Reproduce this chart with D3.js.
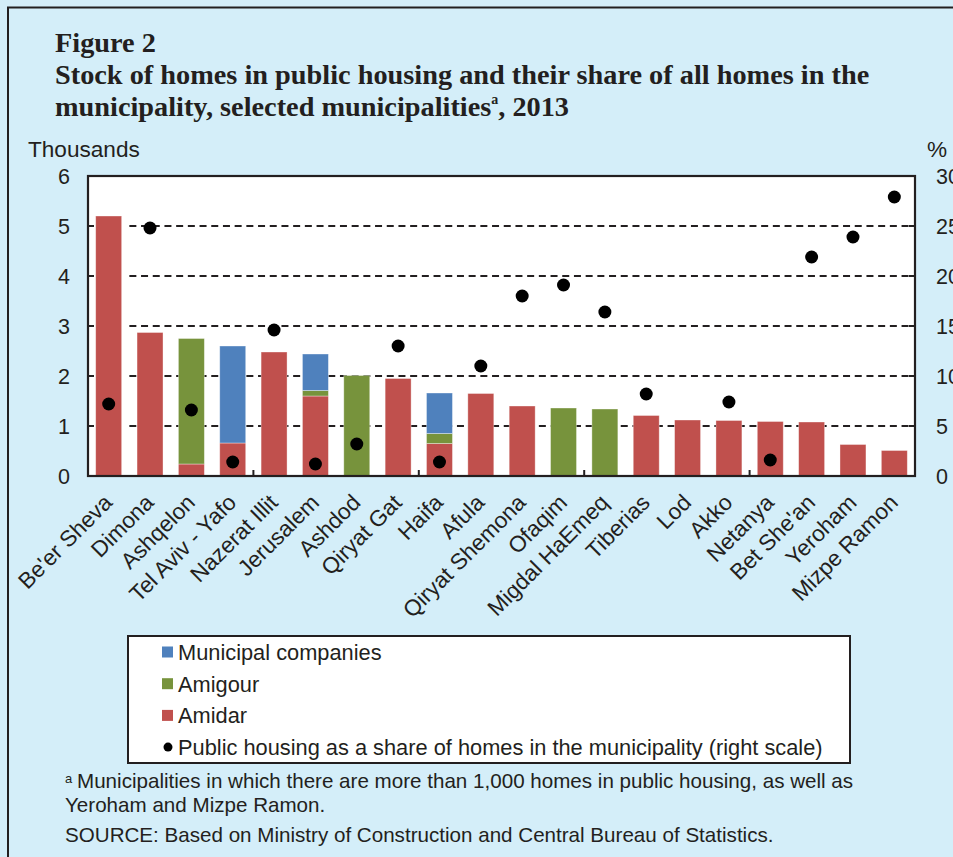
<!DOCTYPE html>
<html>
<head>
<meta charset="utf-8">
<script src="https://cdn.jsdelivr.net/npm/d3@7/dist/d3.min.js"></script>
<style>
  html, body { margin: 0; padding: 0; background: #d4eef9; }
  svg { display: block; }
</style>
</head>
<body>
<svg id="chart" width="953" height="857"></svg>
<script>
// Public housing stock by operator (thousands of homes), 2013
const categories = ["Be'er Sheva", "Dimona", "Ashqelon", "Tel Aviv - Yafo", "Nazerat Illit",
  "Jerusalem", "Ashdod", "Qiryat Gat", "Haifa", "Afula", "Qiryat Shemona", "Ofaqim",
  "Migdal HaEmeq", "Tiberias", "Lod", "Akko", "Netanya", "Bet She'an", "Yeroham", "Mizpe Ramon"];
const amidar    = [5.20, 2.87, 0.24, 0.66, 2.48, 1.60, 0.00, 1.95, 0.65, 1.65, 1.40, 0.00, 0.00, 1.21, 1.12, 1.11, 1.09, 1.08, 0.63, 0.51];
const amigour   = [0.00, 0.00, 2.51, 0.00, 0.00, 0.11, 2.01, 0.00, 0.20, 0.00, 0.00, 1.36, 1.34, 0.00, 0.00, 0.00, 0.00, 0.00, 0.00, 0.00];
const municipal = [0.00, 0.00, 0.00, 1.94, 0.00, 0.73, 0.00, 0.00, 0.81, 0.00, 0.00, 0.00, 0.00, 0.00, 0.00, 0.00, 0.00, 0.00, 0.00, 0.00];
// Public housing as a share of all homes in the municipality (%), right scale
const sharePct  = [7.2, 24.8, 6.6, 1.4, 14.6, 1.2, 3.2, 13.0, 1.4, 11.0, 18.0, 19.1, 16.4, 8.2, null, 7.4, 1.6, 21.9, 23.9, 27.9];

const leftTicks  = [0, 1, 2, 3, 4, 5, 6];
const rightTicks = [0, 5, 10, 15, 20, 25, 30];
const legendLabels = ["Municipal companies", "Amigour", "Amidar",
  "Public housing as a share of homes in the municipality (right scale)"];

const colors = { municipal: "#4f81bd", amigour: "#77933c", amidar: "#c0504d" };
const ink = "#231f20";
const sans = "'Liberation Sans', Arial, sans-serif";
const serif = "'Liberation Serif', 'Times New Roman', serif";

const svg = d3.select("#chart");
const W = 953, H = 857;

// background panel and its frame
svg.append("rect").attr("width", W).attr("height", H).attr("fill", "#d4eef9");
svg.append("path").attr("d", `M8,${H} V7.5 H${W}`)
  .attr("fill", "none").attr("stroke", ink).attr("stroke-width", 2);

// title
const title = svg.append("text").attr("font-family", serif).attr("font-weight", "bold")
  .attr("font-size", 28.3).attr("fill", ink);
title.append("tspan").attr("x", 55).attr("y", 52).text("Figure 2");
title.append("tspan").attr("x", 55).attr("y", 84)
  .text("Stock of homes in public housing and their share of all homes in the");
title.append("tspan").attr("x", 55).attr("y", 116).text("municipality, selected municipalities");
title.append("tspan").attr("font-size", 14).attr("dy", -12).text("a");
title.append("tspan").attr("dy", 12).text(", 2013");

// plot area
const plot = { left: 88, right: 915, top: 176, bottom: 476 };

const x = d3.scaleBand().domain(categories)
  .range([plot.left, plot.right]).paddingInner(0.372).paddingOuter(0.186);
const y = d3.scaleLinear().domain([0, 6]).range([plot.bottom, plot.top]);
const y2 = d3.scaleLinear().domain([0, 30]).range([plot.bottom, plot.top]);

svg.append("rect").attr("x", plot.left).attr("y", plot.top)
  .attr("width", plot.right - plot.left).attr("height", plot.bottom - plot.top)
  .attr("fill", "#fff");

// dashed gridlines, starting after the first category
svg.append("g").selectAll("line").data(leftTicks.filter(d => d > 0 && d < 6)).join("line")
  .attr("x1", plot.left + x.step()).attr("x2", plot.right - 2)
  .attr("y1", d => y(d)).attr("y2", d => y(d))
  .attr("stroke", ink).attr("stroke-width", 2).attr("stroke-dasharray", "7,4.7");

// stacked bars
const rows = categories.map((c, i) => ({ city: c, amidar: amidar[i], amigour: amigour[i], municipal: municipal[i] }));
const stack = d3.stack().keys(["amidar", "amigour", "municipal"])(rows);
svg.append("g").selectAll("g").data(stack).join("g")
  .attr("fill", s => colors[s.key])
  .selectAll("rect").data(s => s.filter(d => d[1] - d[0] > 0)).join("rect")
  .attr("x", d => x(d.data.city))
  .attr("width", x.bandwidth())
  .attr("y", d => y(d[1]))
  .attr("height", d => y(d[0]) - y(d[1]))
  .attr("stroke", "#ffffff").attr("stroke-opacity", 0.45).attr("stroke-width", 0.8);

// share dots on the right scale
svg.append("g").selectAll("circle")
  .data(categories.map((c, i) => ({ city: c, v: sharePct[i] })).filter(d => d.v != null))
  .join("circle")
  .attr("cx", d => x(d.city) + x.bandwidth() / 2)
  .attr("cy", d => y2(d.v))
  .attr("r", 6.5).attr("fill", "#000");

// frame
svg.append("rect").attr("x", plot.left).attr("y", plot.top)
  .attr("width", plot.right - plot.left).attr("height", plot.bottom - plot.top)
  .attr("fill", "none").attr("stroke", ink).attr("stroke-width", 2.2);

// inner tick marks on the category axis, every fourth category
svg.append("g").selectAll("line").data(d3.range(4, categories.length, 4)).join("line")
  .attr("x1", i => x(categories[i]) - x.step() * x.paddingInner() / 2)
  .attr("x2", i => x(categories[i]) - x.step() * x.paddingInner() / 2)
  .attr("y1", plot.bottom).attr("y2", plot.bottom - 6)
  .attr("stroke", ink).attr("stroke-width", 2);

// inner tick marks on both value axes
svg.append("g").selectAll("line").data(leftTicks.filter(d => d > 0 && d < 6)).join("line")
  .attr("x1", plot.left).attr("x2", plot.left + 6)
  .attr("y1", d => y(d)).attr("y2", d => y(d))
  .attr("stroke", ink).attr("stroke-width", 2);
svg.append("g").selectAll("line").data(rightTicks.filter(d => d > 0 && d < 30)).join("line")
  .attr("x1", plot.right - 6).attr("x2", plot.right)
  .attr("y1", d => y2(d)).attr("y2", d => y2(d))
  .attr("stroke", ink).attr("stroke-width", 2);

// value axis labels (the right-hand labels run into the page edge)
svg.append("g").selectAll("text").data(leftTicks).join("text")
  .attr("x", plot.left - 18).attr("y", d => y(d)).attr("dy", "0.36em")
  .attr("text-anchor", "end").attr("font-family", sans).attr("font-size", 21.5).attr("fill", ink)
  .text(d => d);
svg.append("g").selectAll("text").data(rightTicks).join("text")
  .attr("x", plot.right + 21).attr("y", d => y2(d)).attr("dy", "0.36em")
  .attr("text-anchor", "start").attr("font-family", sans).attr("font-size", 21.5).attr("fill", ink)
  .text(d => d);

svg.append("text").attr("x", 28).attr("y", 157).attr("font-family", sans).attr("font-size", 22.6)
  .attr("fill", ink).text("Thousands");
svg.append("text").attr("x", 927).attr("y", 157).attr("font-family", sans).attr("font-size", 22.6)
  .attr("fill", ink).text("%");

// rotated category labels
svg.append("g").selectAll("text").data(categories).join("text")
  .attr("transform", d => `translate(${x(d) + x.bandwidth() / 2 + 5},${plot.bottom + 28}) rotate(-45)`)
  .attr("text-anchor", "end").attr("font-family", sans).attr("font-size", 22.5).attr("fill", ink)
  .text(d => d);

// legend
const lg = svg.append("g");
lg.append("rect").attr("x", 128).attr("y", 636).attr("width", 722).attr("height", 127)
  .attr("fill", "#fff").attr("stroke", ink).attr("stroke-width", 2);
const legendKeys = ["municipal", "amigour", "amidar", "share"];
const item = lg.selectAll("g").data(legendKeys).join("g")
  .attr("transform", (d, i) => `translate(0,${652 + i * 31.7})`);
item.filter(d => d !== "share").append("rect")
  .attr("x", 162).attr("y", -5.5).attr("width", 11).attr("height", 11)
  .attr("fill", d => colors[d]);
item.filter(d => d === "share").append("circle")
  .attr("cx", 168).attr("cy", 0).attr("r", 4.5).attr("fill", "#000");
item.append("text").attr("x", 178).attr("y", 0).attr("dy", "0.36em")
  .attr("font-family", sans).attr("font-size", 21.8).attr("fill", ink)
  .text((d, i) => legendLabels[i]);

// notes
const notes = svg.append("g").attr("font-family", sans).attr("font-size", 20.6).attr("fill", ink);
notes.append("text").attr("x", 65).attr("y", 783).attr("font-size", 13).text("a");
notes.append("text").attr("x", 77).attr("y", 788)
  .text("Municipalities in which there are more than 1,000 homes in public housing, as well as");
notes.append("text").attr("x", 65).attr("y", 812).text("Yeroham and Mizpe Ramon.");
notes.append("text").attr("x", 65).attr("y", 842)
  .text("SOURCE: Based on Ministry of Construction and Central Bureau of Statistics.");
</script>
</body>
</html>
